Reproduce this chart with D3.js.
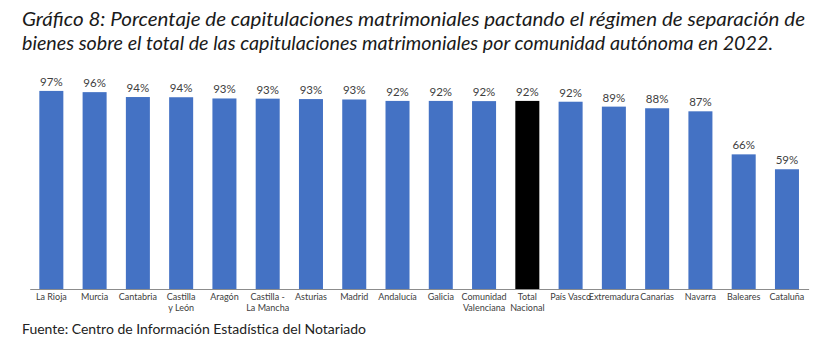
<!DOCTYPE html>
<html>
<head>
<meta charset="utf-8">
<script src="https://cdn.jsdelivr.net/npm/d3@7"></script>
<style>
  html, body { margin: 0; padding: 0; background: #fff; }
  svg { display: block; }
</style>
</head>
<body>
<script>
const categories = ["La Rioja","Murcia","Cantabria","Castilla\ny León","Aragón","Castilla -\nLa Mancha","Asturias","Madrid","Andalucía","Galicia","Comunidad\nValenciana","Total\nNacional","País Vasco","Extremadura","Canarias","Navarra","Baleares","Cataluña"];
const values = [97.1, 96.5, 94.1, 94.0, 93.4, 93.3, 93.1, 92.9, 92.2, 92.2, 92.1, 92.2, 91.8, 89.4, 88.6, 87.1, 66.0, 58.7];
const valueLabels = ["97%","96%","94%","94%","93%","93%","93%","93%","92%","92%","92%","92%","92%","89%","88%","87%","66%","59%"];
const highlight = ["Total\nNacional"];
const titleLines = ["Gráfico 8: Porcentaje de capitulaciones matrimoniales pactando el régimen de separación de",
                    "bienes sobre el total de las capitulaciones matrimoniales por comunidad autónoma en 2022."];
const source = "Fuente: Centro de Información Estadística del Notariado";

const W = 827, H = 347;
const svg = d3.select("body").append("svg").attr("width", W).attr("height", H);
svg.append("rect").attr("width", W).attr("height", H).attr("fill", "#fff");

const font = "Lato, 'Open Sans', sans-serif";

// Title
svg.append("text").attr("x", 22).attr("y", 26)
  .attr("font-family", font).attr("font-style", "italic").attr("font-size", 18.5)
  .attr("fill", "#1a1a1a").attr("textLength", 783).attr("lengthAdjust", "spacingAndGlyphs")
  .text(titleLines[0]);
svg.append("text").attr("x", 22).attr("y", 50)
  .attr("font-family", font).attr("font-style", "italic").attr("font-size", 18.5)
  .attr("fill", "#1a1a1a").attr("textLength", 751).attr("lengthAdjust", "spacingAndGlyphs")
  .text(titleLines[1]);

const x = d3.scaleBand().domain(categories).range([29.7, 808.6]).paddingInner(0.445).paddingOuter(0.2225);
const y = d3.scaleLinear().domain([0, 100]).range([289, 85]);

svg.append("g").selectAll("rect").data(categories).join("rect")
  .attr("x", d => x(d))
  .attr("width", x.bandwidth())
  .attr("y", (d, i) => y(values[i]))
  .attr("height", (d, i) => y(0) - y(values[i]))
  .attr("fill", d => highlight.includes(d) ? "#000000" : "#4472C4");

svg.append("g").selectAll("text").data(categories).join("text")
  .attr("x", d => x(d) + x.bandwidth() / 2)
  .attr("y", (d, i) => y(values[i]) - 5)
  .attr("text-anchor", "middle")
  .attr("font-family", font).attr("font-size", 11.5)
  .attr("fill", "#404040")
  .text((d, i) => valueLabels[i]);

// Axis
const axis = d3.axisBottom(x).tickSize(0).tickFormat("");
const gAxis = svg.append("g").attr("transform", `translate(0,${y(0)})`).call(axis);
gAxis.select(".domain").attr("stroke", "#8c8c8c").attr("stroke-width", 1.2);

const lab = svg.append("g").selectAll("text").data(categories).join("text")
  .attr("x", d => x(d) + x.bandwidth() / 2)
  .attr("y", y(0) + 11)
  .attr("text-anchor", "middle")
  .attr("font-family", font).attr("font-size", 9)
  .attr("fill", "#404040");
lab.each(function(d) {
  const parts = d.split("\n");
  const t = d3.select(this);
  parts.forEach((p, k) => {
    t.append("tspan").attr("x", x(d) + x.bandwidth() / 2).attr("dy", k === 0 ? 0 : 11).text(p);
  });
});

// Source
svg.append("text").attr("x", 22).attr("y", 334)
  .attr("font-family", font).attr("font-size", 13.5)
  .attr("fill", "#222").attr("textLength", 344).attr("lengthAdjust", "spacingAndGlyphs")
  .text(source);
</script>
</body>
</html>
